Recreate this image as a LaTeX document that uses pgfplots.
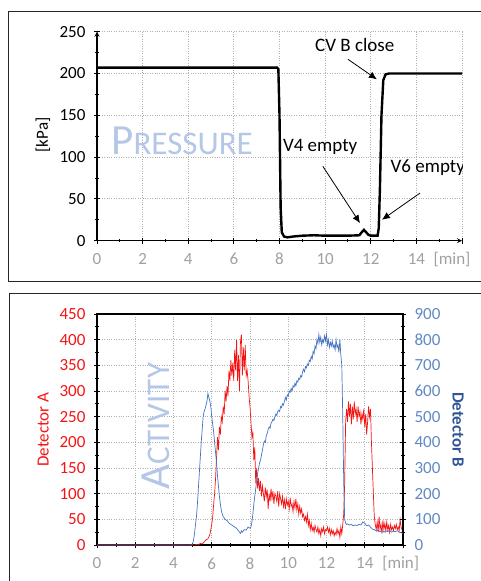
\documentclass[border=0pt]{standalone}
\usepackage{pgfplots}
\pgfplotsset{compat=1.18}
\usepackage{fontspec}
\setmainfont{Carlito}
\usetikzlibrary{arrows.meta}
\definecolor{lineblue}{RGB}{68,114,196}
\definecolor{labblue}{RGB}{96,136,198}
\definecolor{darkblue}{RGB}{47,85,151}
\definecolor{wmblue}{RGB}{180,199,231}
\definecolor{mred}{RGB}{245,20,20}
\definecolor{tgray}{RGB}{160,160,160}
\newcommand{\tf}{\fontsize{17}{20}\selectfont}
\newcommand{\af}{\fontsize{19}{22}\selectfont}

\pgfplotsset{
  common/.style={
    scale only axis, anchor=south west,
    xmin=0, xmax=16,
    xtick={0,2,...,16}, xticklabels={0,2,4,6,8,10,12,14,},
    minor x tick num=1,
    grid=major, major grid style={dotted, gray!60, line width=0.9pt},
    tick align=center, major tick length=6pt, minor tick length=3.5pt,
    tick style={black, line width=1pt},
    axis line style={-, line width=1.2pt, black},
    /pgf/number format/assume math mode=true,
    x tick label style={tgray, font=\tf, yshift=-6pt},
    y tick label style={font=\tf, xshift=-5pt},
    ylabel style={font=\tf},
  }
}

\pgfplotstableread{
x y
0 207
7.90 207
7.95 205
8.00 150
8.05 40
8.10 10
8.20 5
8.35 4
8.60 5
9.00 6
9.50 6.5
10.0 6
10.5 6
11.0 6
11.5 6.5
11.6 10
11.7 13
11.8 10
11.9 7
12.0 6
12.3 6
12.35 15
12.40 60
12.47 150
12.55 192
12.65 199
12.80 200
16.0 200
}\pressure

\pgfplotstableread{
x y
0 0
5.0 0
5.1 0
5.2 1
5.3 0
5.4 3
5.5 2
5.6 6
5.7 10
5.8 12
5.9 20
6.0 40
6.05 55
6.1 80
6.15 100
6.2 130
6.25 170
6.3 210
6.35 185
6.4 230
6.45 215
6.5 250
6.55 240
6.6 270
6.65 255
6.7 300
6.75 280
6.8 310
6.85 290
6.9 340
6.95 320
7.0 360
7.05 330
7.1 355
7.15 320
7.2 380
7.25 340
7.3 400
7.35 320
7.4 370
7.45 300
7.5 395
7.55 410
7.6 330
7.65 385
7.7 340
7.75 390
7.8 330
7.85 340
7.9 320
7.95 290
8.0 270
8.05 240
8.1 210
8.15 220
8.2 165
8.25 190
8.3 120
8.35 150
8.4 110
8.45 130
8.5 105
8.55 125
8.6 95
8.65 115
8.7 100
8.75 85
8.8 112
8.85 95
8.9 108
8.95 70
9.0 100
9.05 85
9.1 110
9.15 90
9.2 105
9.25 80
9.3 100
9.35 95
9.4 85
9.45 105
9.5 75
9.55 100
9.6 90
9.65 80
9.7 95
9.75 75
9.8 88
9.85 70
9.9 90
9.95 78
10.0 85
10.05 70
10.1 92
10.15 75
10.2 80
10.25 65
10.3 85
10.35 72
10.4 90
10.45 68
10.5 80
10.55 60
10.6 75
10.65 62
10.7 70
10.75 55
10.8 60
10.85 48
10.9 55
10.95 45
11.0 60
11.05 38
11.1 48
11.15 30
11.2 42
11.25 28
11.3 35
11.35 25
11.4 38
11.45 30
11.5 25
11.55 35
11.6 22
11.65 30
11.7 18
11.75 32
11.8 26
11.85 35
11.9 22
11.95 30
12.0 28
12.05 35
12.1 25
12.15 32
12.2 20
12.25 30
12.3 22
12.35 28
12.4 18
12.45 25
12.5 20
12.55 32
12.6 22
12.65 28
12.7 15
12.75 35
12.8 22
12.85 40
12.9 60
12.95 120
13.0 240
13.05 265
13.1 240
13.15 280
13.2 250
13.25 275
13.3 235
13.35 270
13.4 245
13.45 280
13.5 255
13.55 265
13.6 240
13.65 270
13.7 250
13.75 260
13.8 235
13.85 255
13.9 245
13.95 265
14.0 230
14.05 255
14.1 215
14.15 240
14.2 270
14.25 250
14.3 265
14.35 200
14.4 150
14.45 100
14.5 55
14.55 40
14.6 30
14.65 45
14.7 25
14.75 55
14.8 30
14.85 40
14.9 22
14.95 48
15.0 30
15.05 42
15.1 28
15.15 45
15.2 30
15.25 38
15.3 25
15.35 40
15.4 30
15.45 35
15.5 28
15.55 38
15.6 32
15.65 40
15.7 30
15.75 35
15.8 28
15.85 50
15.9 35
15.95 30
16.0 20
}\detA

\pgfplotstableread{
x y
0 0
4.95 0
5.0 5
5.05 20
5.1 45
5.15 80
5.2 110
5.25 160
5.3 220
5.35 280
5.4 340
5.45 400
5.5 450
5.55 500
5.6 520
5.65 530
5.7 545
5.75 560
5.8 590
5.85 575
5.9 560
5.95 540
6.0 500
6.05 470
6.1 440
6.15 400
6.2 360
6.25 320
6.3 270
6.35 230
6.4 190
6.45 160
6.5 135
6.55 120
6.6 110
6.7 100
6.8 95
6.9 85
7.0 80
7.1 75
7.2 70
7.3 65
7.4 55
7.45 50
7.5 45
7.55 55
7.6 50
7.7 60
7.8 58
7.9 70
8.0 65
8.05 70
8.1 90
8.15 120
8.2 160
8.25 190
8.3 220
8.35 250
8.4 280
8.45 300
8.5 320
8.55 330
8.6 350
8.65 370
8.7 390
8.75 405
8.8 400
8.85 425
8.9 435
8.95 450
9.0 460
9.05 455
9.1 475
9.15 480
9.2 490
9.25 485
9.3 500
9.35 510
9.4 505
9.45 520
9.5 525
9.55 520
9.6 540
9.65 535
9.7 550
9.75 545
9.8 560
9.85 575
9.9 565
9.95 585
10.0 580
10.05 600
10.1 595
10.15 610
10.2 600
10.25 620
10.3 615
10.35 630
10.4 620
10.45 640
10.5 635
10.55 650
10.6 645
10.65 660
10.7 655
10.75 675
10.8 685
10.85 675
10.9 695
10.95 690
11.0 705
11.05 700
11.1 720
11.15 715
11.2 735
11.25 725
11.3 755
11.35 745
11.4 775
11.45 765
11.5 800
11.55 785
11.6 820
11.65 790
11.7 810
11.75 780
11.8 800
11.85 790
11.9 815
11.95 795
12.0 820
12.05 780
12.1 800
12.15 770
12.2 790
12.25 775
12.3 795
12.35 770
12.4 780
12.45 760
12.5 800
12.55 770
12.6 780
12.65 750
12.7 800
12.75 740
12.8 700
12.85 500
12.9 250
12.95 100
13.0 85
13.05 80
13.1 82
13.2 78
13.3 80
13.4 75
13.5 78
13.6 76
13.7 80
13.8 78
13.9 90
14.0 85
14.1 75
14.2 78
14.3 70
14.4 62
14.5 60
14.6 55
14.7 58
14.8 52
14.9 56
15.0 50
15.1 55
15.2 52
15.3 58
15.4 50
15.5 54
15.6 52
15.7 56
15.8 50
15.9 48
16.0 45
}\detB

\begin{document}
\begin{tikzpicture}[x=1pt,y=1pt]
\useasboundingbox (0,0) rectangle (480,-581);
% panel frames
\draw[line width=1.3pt, black!85] (482,-11.7) -- (8.3,-11.7) -- (8.3,-281.7) -- (482,-281.7);
\draw[line width=1.3pt, black!85] (482,-293.3) -- (9.3,-293.3) -- (9.3,-585);

% ---- pressure ----
\begin{axis}[common,
  at={(97pt,-240.7pt)}, width=365pt, height=209pt,
  ymin=0, ymax=250, ytick={0,50,...,250}, minor y tick num=1,
  axis x line=bottom, axis y line=left,
  ylabel={[kPa]},
  ylabel style={at={(axis description cs:-0.148,0.506)}, anchor=center},
]
\addplot[black, line width=2.4pt] table[x=x,y=y] {\pressure};
\node[text=wmblue, anchor=center] at (axis cs:3.73,120)
  {{\fontsize{43}{43}\selectfont P}{\fontsize{33}{33}\selectfont RESSURE}};
\node[font=\af] at (axis cs:11.3,234) {CV B close};
\node[font=\af] at (axis cs:9.78,112) {V4 empty};
\node[font=\af] at (axis cs:14.5,87) {V6 empty};
\draw[-{Latex[length=8pt,width=7pt]}, line width=0.8pt] (axis cs:11.0,217) -- (axis cs:12.27,193);
\draw[-{Latex[length=8pt,width=7pt]}, line width=0.8pt] (axis cs:9.9,89) -- (axis cs:11.53,21);
\draw[-{Latex[length=8pt,width=7pt]}, line width=0.8pt] (axis cs:14.16,57) -- (axis cs:12.49,25);
\end{axis}
\node[text=tgray, font=\tf] at (452,-259.5) {[min]};

% ---- activity: detector A ----
\begin{axis}[common,
  at={(97pt,-545pt)}, width=306pt, height=231pt,
  ymin=0, ymax=450, ytick={0,50,...,450}, minor y tick num=1,
  xtick pos=left, ytick pos=left,
  y tick label style={mred},
  ylabel={Detector A}, ylabel style={mred, at={(axis description cs:-0.176,0.5)}, anchor=center},
]
\addplot[mred, line width=0.7pt] table[x=x,y=y] {\detA};
\node[text=wmblue, rotate=90, anchor=center] at (axis cs:3.05,232)
  {{\fontsize{43}{43}\selectfont A}{\fontsize{33}{33}\selectfont CTIVITY}};
\end{axis}

% ---- detector B ----
\begin{axis}[common,
  at={(97pt,-545pt)}, width=306pt, height=231pt,
  ymin=0, ymax=900, ytick={0,100,...,900}, minor y tick num=1,
  axis x line=none, axis y line*=right, grid=none,
  y tick label style={labblue, xshift=10pt},
  ylabel={Detector B}, ylabel style={darkblue, font=\tf\bfseries, at={(axis description cs:1.18,0.5)}, anchor=center, rotate=180},
]
\addplot[lineblue, line width=0.7pt] table[x=x,y=y] {\detB};
\end{axis}
\node[text=tgray, font=\tf] at (400.7,-564) {[min]};
\end{tikzpicture}
\end{document}
